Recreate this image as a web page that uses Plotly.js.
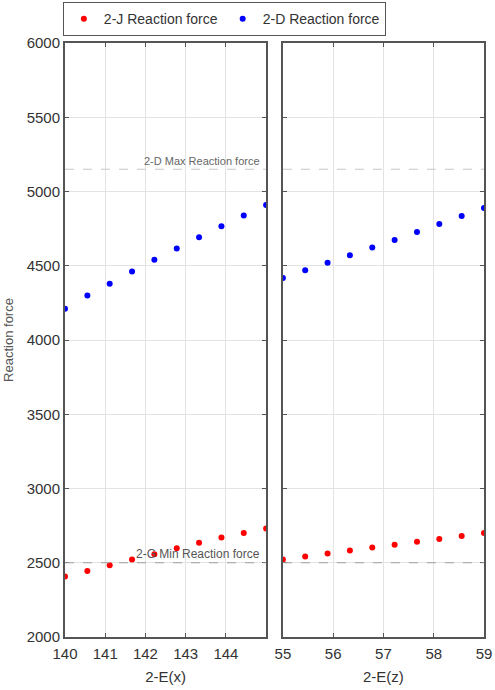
<!DOCTYPE html>
<html>
<head>
<meta charset="utf-8">
<script src="https://cdn.plot.ly/plotly-3.0.1.min.js"></script>
<style>html,body{margin:0;padding:0;background:#fff;}#chart{width:495px;height:690px;}</style>
</head>
<body>
<div id="chart"></div>
<script>
// 2-E(x) panel
const ex = [140, 140.556, 141.111, 141.667, 142.222, 142.778, 143.333, 143.889, 144.444, 145];
const jForceX = [2408, 2444, 2484, 2522, 2558, 2598, 2634, 2670, 2701, 2730];
const dForceX = [4211, 4299, 4379, 4462, 4540, 4616, 4692, 4766, 4838, 4909];
// 2-E(z) panel
const ez = [55, 55.444, 55.889, 56.333, 56.778, 57.222, 57.667, 58.111, 58.556, 59];
const jForceZ = [2522, 2542, 2562, 2582, 2602, 2622, 2642, 2660, 2680, 2701];
const dForceZ = [4417, 4469, 4520, 4571, 4623, 4674, 4728, 4781, 4835, 4889];
// limits
const maxForce = 5150;
const minForce = 2500;
const xTicks = [140, 141, 142, 143, 144];
const zTicks = [55, 56, 57, 58, 59];
const yTicks = [2000, 2500, 3000, 3500, 4000, 4500, 5000, 5500, 6000];

const red = '#ff0000', blue = '#0000ff';
const mk = c => ({color: c, size: 6});
const traces = [
  {x: ex, y: jForceX, type: 'scatter', mode: 'markers', marker: mk(red), name: '2-J Reaction force', xaxis: 'x', yaxis: 'y'},
  {x: ex, y: dForceX, type: 'scatter', mode: 'markers', marker: mk(blue), name: '2-D Reaction force', xaxis: 'x', yaxis: 'y'},
  {x: ez, y: jForceZ, type: 'scatter', mode: 'markers', marker: mk(red), name: '2-J Reaction force', xaxis: 'x2', yaxis: 'y2', showlegend: false},
  {x: ez, y: dForceZ, type: 'scatter', mode: 'markers', marker: mk(blue), name: '2-D Reaction force', xaxis: 'x2', yaxis: 'y2', showlegend: false}
];

const axFont = {family: 'Liberation Sans, Arial, sans-serif', size: 15, color: '#333'};
const baseAx = {
  showline: true, linecolor: '#555', linewidth: 2, mirror: 'ticks',
  ticks: 'inside', ticklen: 4, tickcolor: '#555',
  showgrid: true, gridcolor: '#e3e3e3', gridwidth: 1, zeroline: false,
  tickfont: axFont
};

const dashLine = (xref, yref, yv, col) => ({type: 'line', xref: xref, yref: yref, x0: 0, x1: 1, y0: yv, y1: yv,
  line: {color: col, width: 1.2, dash: 'dash'}});

const layout = {
  width: 495, height: 690,
  margin: {l: 65, r: 11, t: 43, b: 53},
  paper_bgcolor: '#fff', plot_bgcolor: '#fff',
  font: {family: 'Liberation Sans, Arial, sans-serif', color: '#333'},
  showlegend: true,
  legend: {orientation: 'h', xref: 'container', yref: 'container', x: 0.127, xanchor: 'left', y: 0.997, yanchor: 'top',
    bordercolor: '#555', borderwidth: 1, bgcolor: '#fff',
    font: {family: 'Liberation Sans, Arial, sans-serif', size: 14, color: '#333'},
    itemwidth: 20, tracegroupgap: 0},
  xaxis: Object.assign({}, baseAx, {domain: [0, 0.48], range: [140, 145], tickvals: xTicks, ticklabelstandoff: 2,
    title: {text: '2-E(x)', font: {size: 15, color: '#333'}, standoff: 10}}),
  yaxis: Object.assign({}, baseAx, {range: [2000, 6000], tickvals: yTicks,
    title: {text: 'Reaction force', font: {size: 13, color: '#555'}, standoff: 10}}),
  xaxis2: Object.assign({}, baseAx, {domain: [0.52, 1], range: [55, 59], tickvals: zTicks, anchor: 'y2', ticklabelstandoff: 2,
    title: {text: '2-E(z)', font: {size: 15, color: '#333'}, standoff: 10}}),
  yaxis2: Object.assign({}, baseAx, {range: [2000, 6000], tickvals: yTicks, anchor: 'x2', matches: 'y', showticklabels: false}),
  shapes: [
    dashLine('x domain', 'y', maxForce, '#c8c8c8'),
    dashLine('x2 domain', 'y2', maxForce, '#c8c8c8'),
    dashLine('x domain', 'y', minForce, '#a0a0a0'),
    dashLine('x2 domain', 'y2', minForce, '#a0a0a0')
  ],
  annotations: [
    {xref: 'x domain', yref: 'y', x: 0.98, y: maxForce, xanchor: 'right', yanchor: 'bottom',
      text: '2-D Max Reaction force', showarrow: false, font: {size: 11, color: '#666'}},
    {xref: 'x domain', yref: 'y', x: 0.98, y: minForce, xanchor: 'right', yanchor: 'bottom',
      text: '2-G Min Reaction force', showarrow: false, font: {size: 12, color: '#555'}}
  ]
};

Plotly.newPlot('chart', traces, layout, {displayModeBar: false, staticPlot: true});
</script>
</body>
</html>
